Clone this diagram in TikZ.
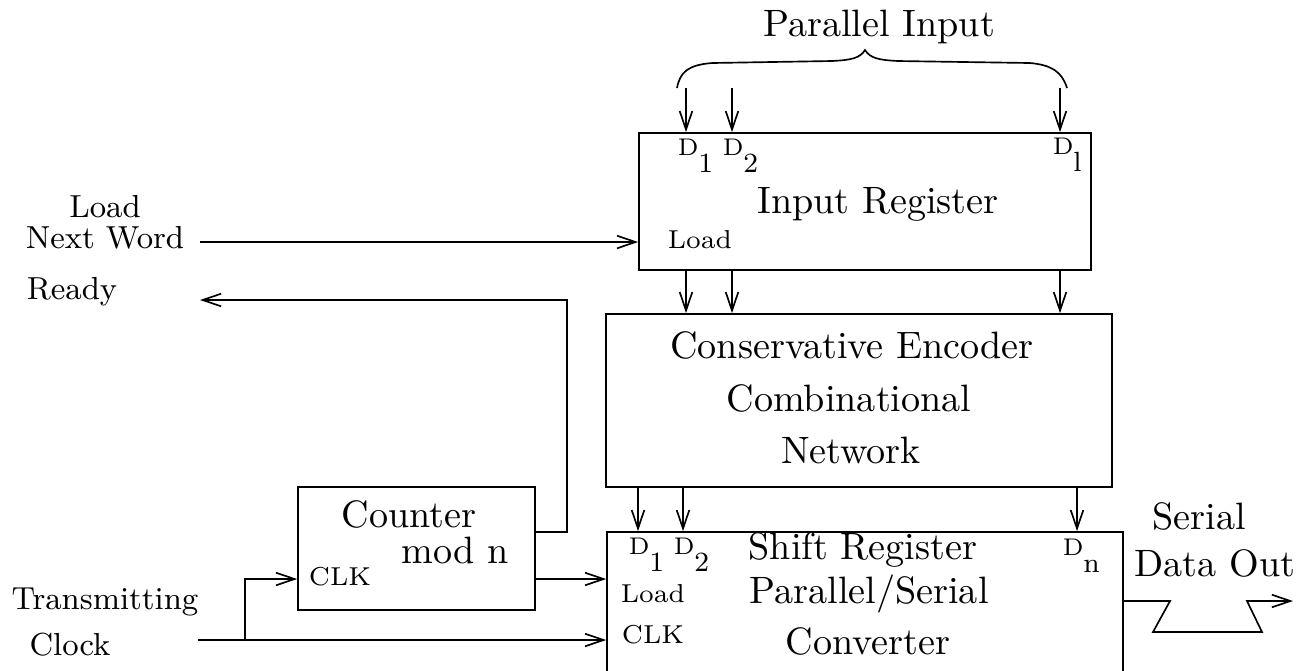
\documentclass[tikz,border=0pt]{standalone}
\usetikzlibrary{arrows.meta,calc,fit}
\newcommand\DD[1]{{\fontsize{6.5}{7}\selectfont D}\raisebox{-4.6pt}{\fontsize{7.5}{8}\selectfont #1}}
\begin{document}
\begin{tikzpicture}[x=0.27pt,y=-0.27pt,
  wire/.style={line width=0.45pt},
  arr/.style={wire,-{Straight Barb[length=5pt,width=3.4pt]}},
  box/.style={draw,line width=0.45pt,inner sep=0pt},
  big/.style={inner sep=0pt,font=\fontsize{10.3}{12}\selectfont},
  side/.style={inner sep=0pt,font=\fontsize{8.6}{10}\selectfont},
  small/.style={inner sep=0pt,font=\fontsize{7}{8}\selectfont},
  dlab/.style={inner sep=0pt,anchor=north west}]
\useasboundingbox (0,0) rectangle (1304,670);
\clip (0,0) rectangle (1304,670);

% boxes
\node[box,fit={(639,133)(1091,270)}] (ir) {};
\node[box,fit={(606,314)(1112,487)}] (enc) {};
\node[box,fit={(607,532)(1123,720)}] (sr) {};
\node[box,fit={(298,487)(535,610)}] (cnt) {};

% texts
\node[big] (tpi) at (879,27) {Parallel Input};
\node[big] (tir) at (878,204) {Input Register};
\node[small] (tirl) at (700,240) {Load};
\node[dlab] (ird1) at (677,138) {\DD{1}};
\node[dlab] (ird2) at (722,138) {\DD{2}};
\node[dlab] (irdl) at (1052,137) {\DD{l}};

\node[big] (te1) at (852,345) {Conservative Encoder};
\node[big] (te2) at (849,398) {Combinational};
\node[big] (te3) at (851,450) {Network};

\node[dlab] (srd1) at (628,537) {\DD{1}};
\node[dlab] (srd2) at (673,537) {\DD{2}};
\node[dlab] (srdn) at (1062,538) {\DD{n}};
\node[big] (ts1) at (863,550) {Shift Register};
\node[big] (ts2) at (869,594) {Parallel/Serial};
\node[big] (ts3) at (868,641) {Converter};
\node[small] (tsl) at (653,594) {Load};
\node[small] (tsc) at (653,635) {CLK};

\node[big] (tc1) at (409,514) {Counter};
\node[big] (tc2) at (455,550) {mod n};
\node[small] (tcc) at (340,577) {CLK};

\node[side] (tl1) at (105,207) {Load};
\node[side] (tl2) at (105,238) {Next Word};
\node[side] (trd) at (72,292) {Ready};
\node[side] (tt1) at (105,602) {Transmitting};
\node[side] (tt2) at (70,645) {Clock};

\node[big] (to1) at (1199,516) {Serial};
\node[big] (to2) at (1215,563) {Data Out};

% brace
\draw[wire] (677,88) .. controls (680,72) and (688,65) .. (712,63)
  -- (832,61) .. controls (852,60) and (860,58) .. (865,50)
  .. controls (870,58) and (878,60) .. (898,61)
  -- (1030,63) .. controls (1052,65) and (1062,72) .. (1067,88);

% parallel inputs
\coordinate (p1) at (686,88);
\coordinate (p2) at (732,88);
\coordinate (p3) at (1060,88);
\foreach \p in {p1,p2,p3} {
  \draw[arr] (\p) -- (\p |- ir.north);
  \draw[arr] (ir.south -| \p) -- (enc.north -| \p);
}
\coordinate (q1) at (638,0);
\coordinate (q2) at (683,0);
\coordinate (q3) at (1077,0);
\foreach \q in {q1,q2,q3} {
  \draw[arr] (enc.south -| \q) -- (sr.north -| \q);
}

% load next word
\coordinate (lnw) at (200,242);
\draw[arr] (lnw) -- (lnw -| ir.west);

% ready
\coordinate (rdy) at (200,300);
\draw[arr] (cnt.east |- 0,532) -| (567,300) -- (rdy);

% counter to shift register load
\draw[arr] (cnt.east |- 0,579) -- (sr.west |- 0,579);

% clock
\coordinate (clk) at (198,640);
\coordinate (br) at (245,640);
\draw[arr] (clk) -- (clk -| sr.west);
\draw[arr] (br) |- (cnt.west |- 0,579);

% serial out
\coordinate (sout) at (1293,601);
\draw[arr] (sr.east |- 0,601) -- (1170,601) -- (1153,632) -- (1262,632) -- (1247,601) -- (sout);
\end{tikzpicture}
\end{document}
